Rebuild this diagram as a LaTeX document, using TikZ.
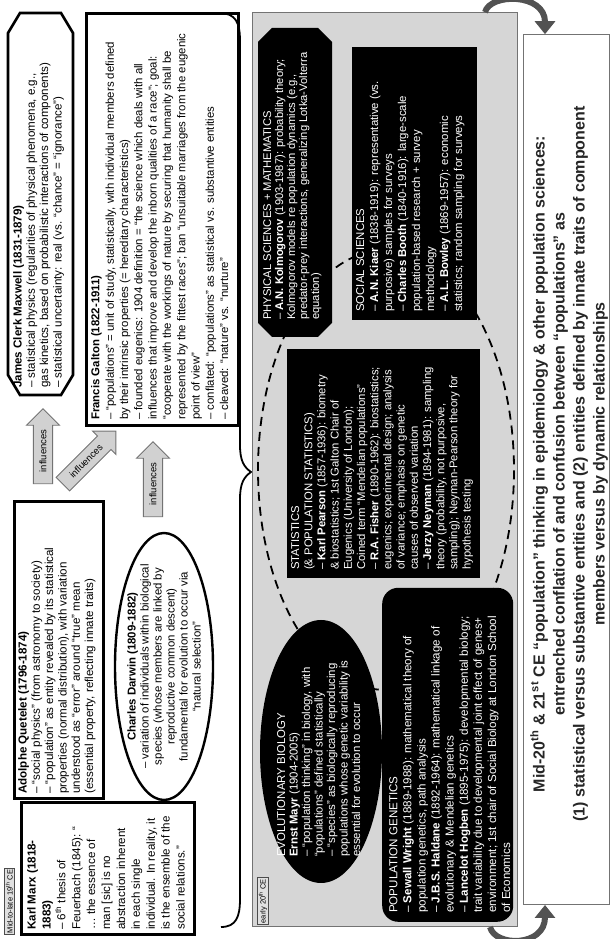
\documentclass[tikz,border=0pt]{standalone}
\usepackage{fontspec}
\setmainfont{Liberation Sans}
\usetikzlibrary{shapes.geometric,shapes.arrows,arrows.meta}
\begin{document}
\begin{tikzpicture}[x=1pt,y=1pt,
  box19/.style={draw=black, line width=2.6pt, fill=white, inner sep=0pt, anchor=north west},
  body/.style={font=\fontsize{11.6}{13.3}\selectfont, align=left, inner sep=0pt, anchor=north west, text=black},
  wbody/.style={body, text=white},
  blackbox/.style={fill=black, draw=none, inner sep=0pt, anchor=north west},
  infl/.style={single arrow, draw=black!55, fill=black!18, line width=0.9pt, font=\fontsize{9.5}{10}\selectfont, single arrow head extend=6.5pt, inner xsep=2pt, inner ysep=5pt, minimum height=75pt, minimum width=33pt},
  era/.style={draw=black!70, fill=black!12, font=\fontsize{7.5}{8}\selectfont, inner sep=1.5pt, line width=0.6pt, anchor=north west},
  turnarrow/.style={draw=black!68, line width=6pt, -{Triangle[width=20pt,length=13pt]}},
]
\useasboundingbox (0,0) rectangle (611,939);
\begin{scope}[rotate=90, transform shape]
% ---------------- 19th century ----------------
\node[era] (era19) at (4,-4) {Mid-to-late 19\textsuperscript{th} CE};

\node[box19, minimum width=132pt, minimum height=173pt] (marx) at (3,-20) {};
\node[body, font=\fontsize{11.6}{14.9}\selectfont] (marxt) at (9,-27) {\textbf{Karl Marx (1818-}\\\textbf{1883)}\\– 6\textsuperscript{th} thesis of\\Feuerbach (1845): “\\… the essence of\\man [sic] is no\\abstraction inherent\\in each single\\individual. In reality, it\\is the ensemble of the\\social relations.”};

\node[box19, minimum width=297pt, minimum height=89pt] (quet) at (139,-13) {};
\node[body] (quett) at (145,-18) {\textbf{Adolphe Quetelet (1796-1874)}\\– “social physics” (from astronomy to society)\\– “population” as entity revealed by its statistical\\properties (normal distribution), with variation\\understood as “error” around “true” mean\\(essential property, reflecting innate traits)};

\draw[line width=2.6pt, fill=white] (544,-20) -- (544,-61) -- (564,-73) -- (906,-73) -- (926,-61) -- (926,-20) -- (906,-8) -- (564,-8) -- cycle;
\node[body] (maxt) at (551,-13) {\textbf{James Clerk Maxwell (1831-1879)}\\– statistical physics (regularities of physical phenomena, e.g.,\\gas kinetics, based on probabilistic interactions of components)\\– statistical uncertainty: real (vs. “chance” = “ignorance”)};

\node[box19, minimum width=412pt, minimum height=152pt] (galton) at (512,-85) {};
\node[body, font=\fontsize{11.4}{14.3}\selectfont] (galtont) at (519,-91) {\textbf{Francis Galton (1822-1911)}\\– “populations” = unit of study, statistically, with individual members defined\\by their intrinsic properties (= hereditary characteristics)\\– founded eugenics: 1904 definition = “the science which deals with all\\influences that improve and develop the inborn qualities of a race”; goal:\\“cooperate with the workings of nature by securing that humanity shall be\\represented by the fittest races”; ban “unsuitable marriages from the eugenic\\point of view”\\– conflated: “populations” as statistical vs. substantive entities\\– cleaved: “nature” vs. “nurture”};

\node[ellipse, draw=black, line width=2.4pt, fill=white, minimum width=267pt, minimum height=98pt, inner sep=0pt] (darwin) at (272.5,-164) {};
\node[body, align=center, anchor=center, font=\fontsize{11.4}{13}\selectfont] (darwint) at (darwin.center) {\textbf{Charles Darwin (1809-1882)}\\– variation of individuals within biological\\species (whose members are linked by\\reproductive common descent)\\fundamental for evolution to occur via\\“natural selection”};

\node[infl] (inf1) at (488,-43) {influences};
\node[infl, rotate=-45] (inf2) at (478,-86) {influences};
\node[infl] (inf3) at (455,-153) {influences};

% brace
\draw[line width=1.8pt] (12,-221) .. controls (12,-236) and (22,-240) .. (40,-240) -- (440,-240) .. controls (456,-240) and (462,-244) .. (467,-251) .. controls (472,-244) and (478,-240) .. (494,-240) -- (898,-240) .. controls (916,-240) and (926,-236) .. (926,-219);

% ---------------- early 20th century ----------------
\node[draw=black!55, fill=black!16, line width=0.8pt, minimum width=914pt, minimum height=265pt, anchor=north west, inner sep=0pt] (panel) at (12,-252) {};
\node[era] (era20) at (14,-257) {early 20\textsuperscript{th} CE};

\node[ellipse, draw=black, line width=1.8pt, dash pattern=on 9pt off 6pt, minimum width=440pt, minimum height=256pt, inner sep=0pt] (statring) at (469,-386) {};

\fill[black] (616,-258) -- (897,-258) -- (911,-272) -- (911,-318) -- (897,-332) -- (616,-332) -- (602,-318) -- (602,-272) -- cycle;
\node[wbody, font=\fontsize{11.2}{12}\selectfont] (physt) at (619,-263) {PHYSICAL SCIENCES + MATHEMATICS\\– \textbf{A.N. Kolmogorov} (1903-1987): probability theory;\\Kolmogorov models re population dynamics (e.g.,\\predator-prey interactions, generalizing Lotka-Volterra\\equation)};

\node[blackbox, minimum width=273pt, minimum height=125pt] (social) at (619,-352) {};
\node[wbody, font=\fontsize{11.4}{14}\selectfont] (socialt) at (627,-356) {SOCIAL SCIENCES\\– \textbf{A.N. Kiaer} (1838-1919): representative (vs.\\purposive) samples for surveys\\– \textbf{Charles Booth} (1840-1916): large-scale\\population-based research + survey\\methodology\\– \textbf{A.L. Bowley} (1869-1957): economic\\statistics; random sampling for surveys};

\node[blackbox, minimum width=229pt, minimum height=193pt] (stats) at (361,-287) {};
\node[wbody, font=\fontsize{11.3}{13.2}\selectfont] (statst) at (369,-291) {STATISTICS\\(\& POPULATION STATISTICS)\\– \textbf{Karl Pearson} (1857-1936): biometry\\\& biostatistics; 1st Galton Chair of\\Eugenics (University of London);\\Coined term “Mendelian populations”\\– \textbf{R.A. Fisher} (1890-1962): biostatistics;\\eugenics; experimental design; analysis\\of variance; emphasis on genetic\\causes of observed variation\\– \textbf{Jerzy Neyman} (1894-1981): sampling\\theory (probability, not purposive,\\sampling); Neyman-Pearson theory for\\hypothesis testing};

\node[ellipse, fill=black, minimum width=263pt, minimum height=122pt, inner sep=0pt] (evol) at (187.5,-321) {};
\node[wbody, font=\fontsize{11.4}{12.5}\selectfont] (evolt) at (82,-277) {EVOLUTIONARY BIOLOGY\\\textbf{Ernst Mayr} (1904-2005)\\– “population thinking” in biology, with\\“populations” defined statistically\\– “species” as biologically reproducing\\populations whose genetic variability is\\essential for evolution to occur};

\node[blackbox, rounded corners=16pt, minimum width=334pt, minimum height=131pt] (popgen) at (17,-382) {};
\node[wbody, font=\fontsize{11.6}{14.1}\selectfont] (popgent) at (26,-389) {POPULATION GENETICS\\– \textbf{Sewall Wright} (1889-1988): mathematical theory of\\population genetics, path analysis\\– \textbf{J.B.S. Haldane} (1892-1964): mathematical linkage of\\evolutionary \& Mendelian genetics\\– \textbf{Lancelot Hogben} (1895-1975): developmental biology;\\trait variability due to developmental joint effect of genes+\\environment; 1st chair of Social Biology at London School\\of Economics};

% ---------------- bottom statement ----------------
\node[draw=black!55, fill=white, line width=0.8pt, minimum width=870pt, minimum height=86pt, anchor=north west, inner sep=0pt] (bottom) at (34,-523) {};
\node[font=\fontsize{16}{20}\selectfont\bfseries, align=center, inner sep=0pt, text=black!85] (bottomt) at (475,-569) {Mid-20\textsuperscript{th} \& 21\textsuperscript{st} CE “population” thinking in epidemiology \& other population sciences:\\entrenched conflation of and confusion between “populations” as\\(1) statistical versus substantive entities and (2) entities defined by innate traits of component\\members versus by dynamic relationships};

\draw[turnarrow] (panel.east |- 0,-485) .. controls (946,-490) and (946,-545) .. (bottom.east |- 0,-545);
\draw[turnarrow] (panel.west |- 0,-490) .. controls (-8,-495) and (-8,-545) .. (bottom.west |- 0,-545);
\end{scope}
\end{tikzpicture}
\end{document}
